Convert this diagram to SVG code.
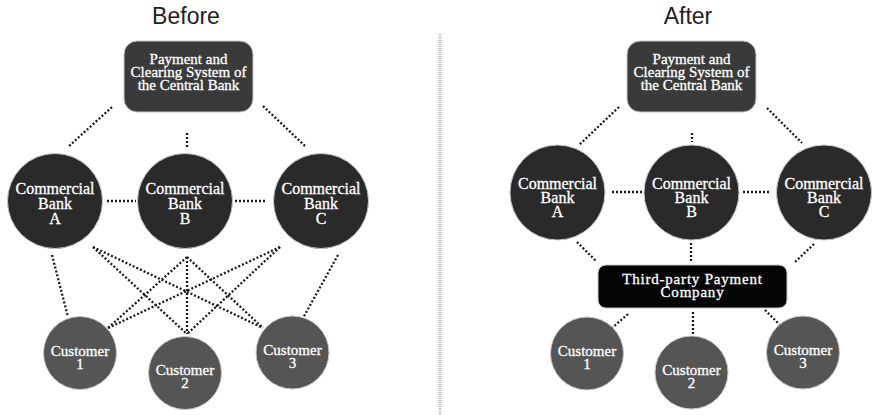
<svg xmlns="http://www.w3.org/2000/svg" width="874" height="415" viewBox="0 0 874 415">
  <style>
    .title { font-family: "Liberation Sans", Arial, sans-serif; font-size: 23px; fill: #222; text-anchor: middle; }
    .lbl { font-family: "Liberation Serif", "Times New Roman", serif; fill: #fff; stroke: #fff; stroke-width: 0.3; text-anchor: middle; }
    .cb { font-size: 15px; }
    .bank { font-size: 16px; }
    .cust { font-size: 15px; }
    .tp { font-size: 15px; letter-spacing: 0.8px; }
    .central { fill: #3a3a3a; stroke: #c8c8c8; stroke-width: 1; }
    .bankc { fill: #2a2a2a; stroke: #c8c8c8; stroke-width: 1; }
    .custc { fill: #555; stroke: #c8c8c8; stroke-width: 1; }
    .third { fill: #050505; stroke: #c8c8c8; stroke-width: 1; }
    .dot { stroke: #1a1a1a; stroke-width: 2.3; stroke-dasharray: 2 2; fill: none; }
    .divider { stroke: #b5b5b5; stroke-width: 2.5; stroke-dasharray: 1 1; }
  </style>

  <text class="title" x="186" y="24">Before</text>
  <text class="title" x="688" y="24">After</text>

  <line class="divider" x1="440" y1="34" x2="440" y2="415"/>

  <!-- connectors -->
  <g id="connectors">
    <!-- left: central bank to commercial banks -->
    <line class="dot" x1="112" y1="107" x2="68" y2="147"/>
    <line class="dot" x1="187" y1="133" x2="187" y2="148"/>
    <line class="dot" x1="263" y1="106" x2="305" y2="146"/>
    <!-- left: interbank -->
    <line class="dot" x1="107" y1="201" x2="136" y2="201"/>
    <line class="dot" x1="235" y1="201" x2="266" y2="201"/>
    <!-- left: banks to customers -->
    <line class="dot" x1="52" y1="255" x2="68" y2="317"/>
    <line class="dot" x1="93" y1="247" x2="187" y2="334"/>
    <line class="dot" x1="93" y1="247" x2="263" y2="328"/>
    <line class="dot" x1="187" y1="257" x2="108" y2="328"/>
    <line class="dot" x1="187" y1="257" x2="187" y2="334"/>
    <line class="dot" x1="187" y1="257" x2="263" y2="328"/>
    <line class="dot" x1="280" y1="247" x2="108" y2="328"/>
    <line class="dot" x1="280" y1="247" x2="187" y2="334"/>
    <line class="dot" x1="338" y1="255" x2="303" y2="318"/>

    <!-- right: central bank to commercial banks -->
    <line class="dot" x1="619" y1="107" x2="579" y2="145"/>
    <line class="dot" x1="692" y1="133" x2="692" y2="142"/>
    <line class="dot" x1="767" y1="108" x2="802" y2="143"/>
    <!-- right: interbank -->
    <line class="dot" x1="612" y1="192" x2="643" y2="192"/>
    <line class="dot" x1="743" y1="192" x2="771" y2="192"/>
    <!-- right: banks to third-party -->
    <line class="dot" x1="577" y1="242" x2="596" y2="261"/>
    <line class="dot" x1="691" y1="243" x2="691" y2="263"/>
    <line class="dot" x1="814" y1="244" x2="795" y2="262"/>
    <!-- right: third-party to customers -->
    <line class="dot" x1="628" y1="314" x2="612" y2="328"/>
    <line class="dot" x1="693" y1="312" x2="693" y2="337"/>
    <line class="dot" x1="765" y1="310" x2="780" y2="325"/>
  </g>

  <!-- Before -->
  <g id="central-before">
    <rect class="central" x="124" y="41" width="129" height="71" rx="13"/>
    <text class="lbl cb" x="188.5" y="64">Payment and</text>
    <text class="lbl cb" x="188.5" y="77">Clearing System of</text>
    <text class="lbl cb" x="188.5" y="90">the Central Bank</text>
  </g>
  <g id="bankA-before">
    <circle class="bankc" cx="55" cy="201" r="47.5"/>
    <text class="lbl bank" x="55" y="194">Commercial</text>
    <text class="lbl bank" x="55" y="209">Bank</text>
    <text class="lbl bank" x="55" y="224">A</text>
  </g>
  <g id="bankB-before">
    <circle class="bankc" cx="185" cy="201" r="47.5"/>
    <text class="lbl bank" x="185" y="194">Commercial</text>
    <text class="lbl bank" x="185" y="209">Bank</text>
    <text class="lbl bank" x="185" y="224">B</text>
  </g>
  <g id="bankC-before">
    <circle class="bankc" cx="321" cy="201" r="47.5"/>
    <text class="lbl bank" x="321" y="194">Commercial</text>
    <text class="lbl bank" x="321" y="209">Bank</text>
    <text class="lbl bank" x="321" y="224">C</text>
  </g>
  <g id="customer1-before">
    <circle class="custc" cx="80" cy="353" r="36.5"/>
    <text class="lbl cust" x="80" y="356">Customer</text>
    <text class="lbl cust" x="80" y="369">1</text>
  </g>
  <g id="customer2-before">
    <circle class="custc" cx="185" cy="373" r="36.5"/>
    <text class="lbl cust" x="185" y="375">Customer</text>
    <text class="lbl cust" x="185" y="388">2</text>
  </g>
  <g id="customer3-before">
    <circle class="custc" cx="292.5" cy="352.5" r="36.5"/>
    <text class="lbl cust" x="292.5" y="355">Customer</text>
    <text class="lbl cust" x="292.5" y="368">3</text>
  </g>

  <!-- After -->
  <g id="central-after">
    <rect class="central" x="627" y="41" width="129" height="71" rx="13"/>
    <text class="lbl cb" x="691.5" y="64">Payment and</text>
    <text class="lbl cb" x="691.5" y="77">Clearing System of</text>
    <text class="lbl cb" x="691.5" y="90">the Central Bank</text>
  </g>
  <g id="bankA-after">
    <circle class="bankc" cx="557.5" cy="192.5" r="47.5"/>
    <text class="lbl bank" x="557.5" y="189">Commercial</text>
    <text class="lbl bank" x="557.5" y="203">Bank</text>
    <text class="lbl bank" x="557.5" y="217">A</text>
  </g>
  <g id="bankB-after">
    <circle class="bankc" cx="691.5" cy="192.5" r="47.5"/>
    <text class="lbl bank" x="691.5" y="189">Commercial</text>
    <text class="lbl bank" x="691.5" y="203">Bank</text>
    <text class="lbl bank" x="691.5" y="217">B</text>
  </g>
  <g id="bankC-after">
    <circle class="bankc" cx="824" cy="192.5" r="47.5"/>
    <text class="lbl bank" x="824" y="189">Commercial</text>
    <text class="lbl bank" x="824" y="203">Bank</text>
    <text class="lbl bank" x="824" y="217">C</text>
  </g>
  <g id="third-party">
    <rect class="third" x="598" y="265" width="189" height="43" rx="8"/>
    <text class="lbl tp" x="692.5" y="284">Third-party Payment</text>
    <text class="lbl tp" x="692.5" y="297">Company</text>
  </g>
  <g id="customer1-after">
    <circle class="custc" cx="587" cy="353.5" r="36.5"/>
    <text class="lbl cust" x="587" y="356">Customer</text>
    <text class="lbl cust" x="587" y="369">1</text>
  </g>
  <g id="customer2-after">
    <circle class="custc" cx="691.5" cy="372.5" r="36.5"/>
    <text class="lbl cust" x="691.5" y="375">Customer</text>
    <text class="lbl cust" x="691.5" y="388">2</text>
  </g>
  <g id="customer3-after">
    <circle class="custc" cx="803" cy="352.5" r="36.5"/>
    <text class="lbl cust" x="803" y="355">Customer</text>
    <text class="lbl cust" x="803" y="368">3</text>
  </g>
</svg>
